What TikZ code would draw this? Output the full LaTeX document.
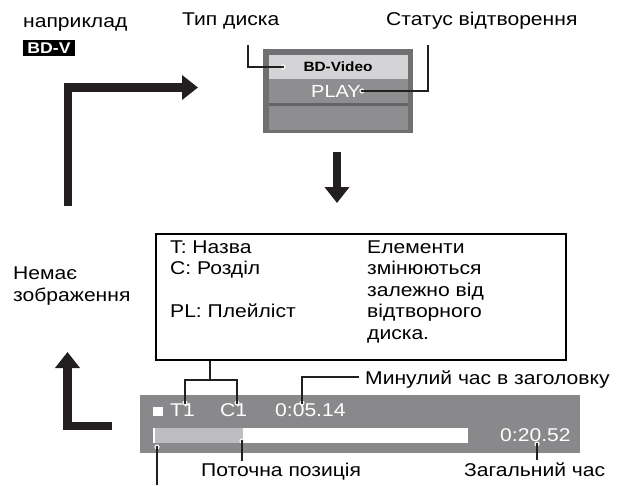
\documentclass[tikz,border=0pt]{standalone}
\usepackage{fontspec}
\setmainfont{Liberation Sans}[FakeStretch=1.14]
\usetikzlibrary{arrows.meta}
\definecolor{boxouter}{HTML}{707072}
\definecolor{rowgray}{HTML}{8E8E90}
\definecolor{band}{HTML}{D4D4D6}
\definecolor{sepgray}{HTML}{646466}
\definecolor{bargray}{HTML}{89898B}
\definecolor{proglight}{HTML}{BDBDBF}
\definecolor{arrowblack}{HTML}{231F20}
\begin{document}
\begin{tikzpicture}[x=1pt,y=-1pt,
  font=\fontsize{18.5}{21.5}\selectfont,
  lbl/.style={inner sep=0pt, anchor=base west},
  conn/.style={line width=1.6pt, draw=arrowblack, line join=miter},
  bigarrow/.style={line width=8.5pt, draw=arrowblack, line join=miter,
     -{Triangle[length=16pt,width=24pt]}},
  bartext/.style={lbl, text=white},
]
\useasboundingbox (0,0) rectangle (617,485);

% top-left labels
\node[lbl] (ex) at (23,27) {наприклад};
\node[fill=black, text=white, inner sep=0pt, minimum width=52pt, minimum height=16pt,
      font=\fontsize{15.5}{15.5}\selectfont\bfseries] (bdvtag) at (49,48) {BD-V};
\node[lbl] (disctype) at (182,25) {Тип диска};
\node[lbl] (status) at (386,25) {Статус відтворення};

% small status box
\fill[boxouter] (263,49) rectangle (413,133);
\fill[band] (269,55) rectangle (408,79);
\fill[rowgray] (269,79) rectangle (408,103);
\fill[sepgray] (269,103) rectangle (408,106);
\fill[rowgray] (269,106) rectangle (408,130);
\node[inner sep=0pt, font=\fontsize{13.5}{13.5}\selectfont\bfseries] (bdv) at (338,67) {BD-Video};
\node[inner sep=0pt, text=white, font=\fontsize{17.5}{17.5}\selectfont] (play) at (336,91) {PLAY};

% connectors of the status box
\coordinate (dtstart) at (248,45);
\coordinate (dtend) at (283,67);
\fill[white] (dtend) circle[radius=2.6pt];
\draw[conn] (dtstart) |- (dtend);
\fill[arrowblack] (dtend) circle[radius=1.3pt];
\coordinate (ststart) at (428,45);
\fill[white] ([xshift=1pt]play.east) circle[radius=2.6pt];
\draw[conn] (ststart) |- ([xshift=1pt]play.east);
\fill[arrowblack] ([xshift=1pt]play.east) circle[radius=1.3pt];

% big arrows
\coordinate (a1start) at (68,206);
\coordinate (a1end) at (198,87.5);
\draw[bigarrow] (a1start) |- (a1end);
\coordinate (a2start) at (337,152);
\coordinate (a2end) at (337,203);
\draw[bigarrow] (a2start) -- (a2end);
\coordinate (a3start) at (112,426);
\coordinate (a3end) at (67.5,352);
\draw[bigarrow] (a3start) -| (a3end);

% no picture label
\node[lbl] (nopic1) at (13,279) {Немає};
\node[lbl] (nopic2) at (13,301) {зображення};

% info box
\node[draw=black, line width=2pt, minimum width=410pt, minimum height=126pt,
      anchor=north west, inner sep=0pt] (info) at (155,233) {};
\node[lbl] (lt) at (170,253) {T: Назва};
\node[lbl] (lc) at (170,274.5) {C: Розділ};
\node[lbl] (lpl) at (170,317.5) {PL: Плейліст};
\node[lbl] (r1) at (367,253) {Елементи};
\node[lbl] (r2) at (367,274.5) {змінюються};
\node[lbl] (r3) at (367,296) {залежно від};
\node[lbl] (r4) at (367,317.5) {відтворного};
\node[lbl] (r5) at (367,339) {диска.};

% bottom bar
\fill[bargray] (140,395) rectangle (580,453);
\fill[white] (153,407) rectangle (163,416);
\node[bartext] (t1) at (170,416) {T1};
\node[bartext] (c1) at (220,416) {C1};
\node[bartext] (elapsed) at (275,416) {0:05.14};
\fill[proglight] (153,428) rectangle (243,443);
\fill[white] (153,428) rectangle (154.5,443);
\fill[white] (243,428) rectangle (468,443);
\node[bartext] (total) at (500,441) {0:20.52};

% bracket from info box to T1 / C1
\coordinate (brtop) at (210,380);
\draw[conn] (info.south -| brtop) -- (brtop);
\coordinate (brl) at (185,380);
\coordinate (brr) at (237,380);
\coordinate (brlend) at (185,403);
\coordinate (brrend) at (237,403);
\fill[white] (brlend) circle[radius=2.6pt] (brrend) circle[radius=2.6pt];
\draw[conn] (brlend) -- (brl) -- (brr) -- (brrend);
\fill[arrowblack] (brlend) circle[radius=1.3pt] (brrend) circle[radius=1.3pt];

% elapsed time label
\node[lbl] (elabel) at (365,384) {Минулий час в заголовку};
\coordinate (elbot) at (302,403);
\coordinate (elend) at (359,377);
\fill[white] (elbot) circle[radius=2.6pt];
\draw[conn] (elbot) |- (elend);
\fill[arrowblack] (elbot) circle[radius=1.3pt];

% current position
\coordinate (cptop) at (242,441);
\coordinate (cpbot) at (242,461);
\fill[white] (cptop) circle[radius=2.6pt];
\draw[conn] (cptop) -- (cpbot);
\fill[arrowblack] (cptop) circle[radius=1.3pt];
\node[lbl] (cplabel) at (201,476) {Поточна позиція};

% total time
\coordinate (tttop) at (537,444);
\coordinate (ttbot) at (537,460);
\fill[white] (tttop) circle[radius=2.6pt];
\draw[conn] (tttop) -- (ttbot);
\fill[arrowblack] (tttop) circle[radius=1.3pt];
\node[lbl] (ttlabel) at (464,476) {Загальний час};

% start tick
\coordinate (sttop) at (157,447);
\coordinate (stbot) at (157,485);
\fill[white] (sttop) circle[radius=2.6pt];
\draw[conn] (sttop) -- (stbot);
\fill[arrowblack] (sttop) circle[radius=1.3pt];
\end{tikzpicture}
\end{document}
